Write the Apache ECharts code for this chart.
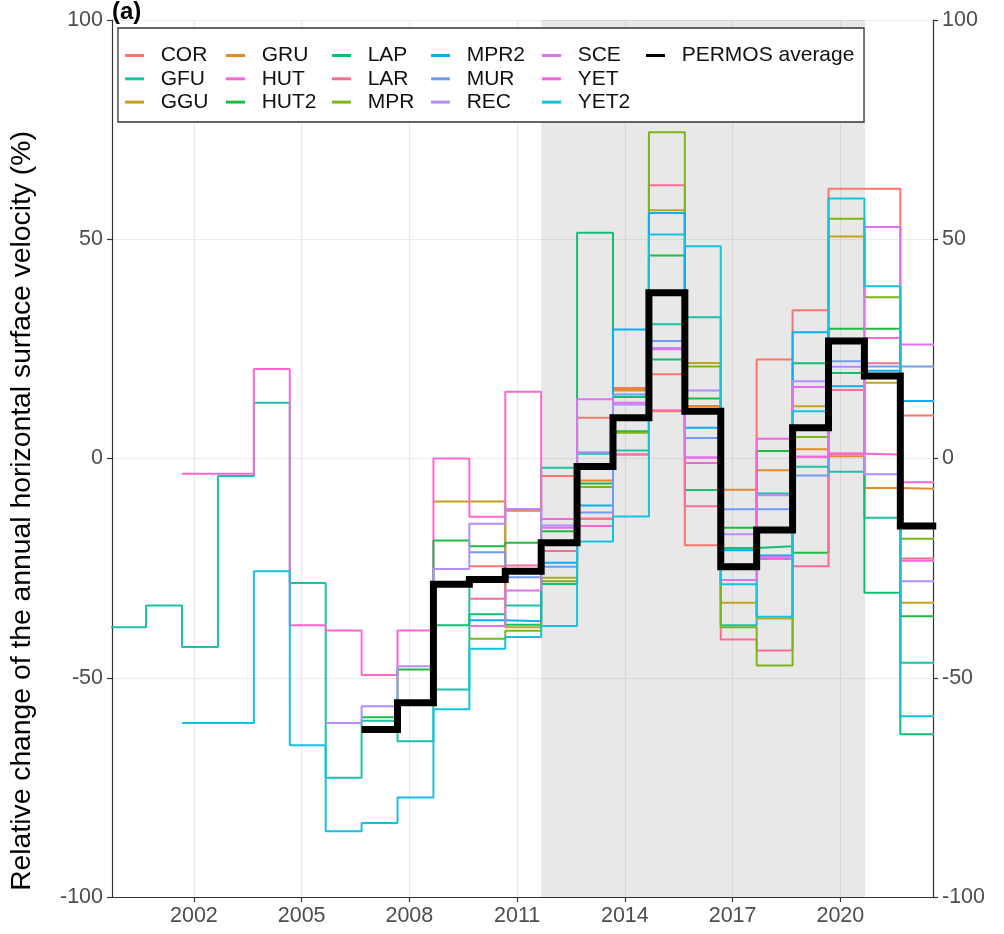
<!DOCTYPE html>
<html><head><meta charset="utf-8">
<script src="https://cdn.jsdelivr.net/npm/echarts@6/dist/echarts.min.js"></script>
<style>html,body{margin:0;padding:0;background:#fff}#c{width:1004px;height:934px}</style>
</head><body><div id="c"></div>
<script>
// ---- data (segment years; each value covers Sept of previous year to Sept of the year) ----
const years = [2000,2001,2002,2003,2004,2005,2006,2007,2008,2009,2010,2011,2012,2013,2014,2015,2016,2017,2018,2019,2020,2021,2022];
const xTicks = [2002,2005,2008,2011,2014,2017,2020];
const yTicks = [-100,-50,0,50,100];
const shadeRange = [2011.67, 2020.69];

const COR  = [null,null,null,null,null,null,null,null,null,null,-24.6,-11.9,-4,9.3,16.1,19.2,-19.8,-20.5,22.6,33.8,61.5,61.5,9.8];
const GFU  = [-38.5,-33.5,-43,-4,12.7,-28.4,-72.8,-59.8,-64.5,-52.7,-27,-33.5,-2.1,1.1,1.8,30.6,32.2,-38,-8,-1.9,-3,-13.5,-46.6];
const GGU  = [null,null,null,null,null,null,null,null,null,-9.8,-9.8,-38.5,-27.2,-13.8,15.5,56.6,21.8,-32.9,-36.5,11.9,50.6,17.3,-32.9];
const GRU  = [null,null,null,null,null,null,null,null,null,null,null,null,null,-5,15.8,10.8,12,-7.1,-2.7,2.1,0.5,-6.7,-6.9];
const HUT  = [null,null,-3.5,-3.5,20.4,-38,-39.2,-49.4,-39.2,0,-13.3,15.2,-13.8,-15.4,0.9,11,0.2,-24.2,-22.9,0.4,1.1,27.5,-5.4];
const HUT2 = [null,null,null,null,null,null,null,-59,-48.1,-18.7,-20,-19.2,-16.6,-5.7,6.2,46.3,13.7,-15.8,1.7,-21.5,29.6,29.6,-36];
const LAP  = [null,null,null,null,null,null,null,null,null,-38,-35.5,-37.9,-28.6,51.5,14,22.6,-7.2,-20.4,-20,21.7,19.5,-30.6,-62.9];
const LAR  = [null,null,null,null,null,null,null,null,null,null,-32,-24.4,-21.1,-13.7,0.9,62.3,-10.9,-41.3,-43.8,-24.6,15.6,21.7,-22.8];
const MPR  = [null,null,null,null,null,null,null,null,null,null,-41.1,-39.3,-28,-6.5,5.9,74.4,21,-38.5,-47.2,4.9,54.7,36.8,-18.3];
const MPR2 = [null,null,null,null,null,null,null,null,null,null,-36.9,-37.1,-23.8,-10.7,29.4,56,7,-20.9,-22.1,28.8,16.5,20,13.1];
const MUR  = [null,null,null,null,null,null,null,null,null,null,-21.4,-27.1,-24.7,-12.3,14.6,26.8,4.7,-11.6,-11.6,-3.9,22.2,21,21];
const REC  = [null,null,null,null,null,null,-60.3,-56.5,-47.4,-25.2,-14.9,-11.5,-15.3,1.4,12.3,25.2,15.5,-17.3,-8.4,17.6,20.9,-3.6,-28];
const SCE  = [null,null,null,null,null,null,null,null,null,null,-38.2,-30.1,-15.8,13.5,12.7,24.9,0.2,-27.7,-22.5,16.3,1.1,52.8,26];
const YET  = [null,null,null,null,null,null,null,null,null,null,null,null,null,null,null,null,-1,-24.5,4.5,0.4,1.1,0.9,-23.3];
const YET2 = [null,null,-60.3,-60.3,-25.7,-65.4,-85,-83.1,-77.3,-57.2,-43.4,-40.7,-38.2,-18.9,-13.2,51.1,48.4,-28.7,-36.1,10.8,59.3,39.3,-58.8];
const AVG  = [null,null,null,null,null,null,null,-61.8,-55.7,-28.7,-27.6,-25.7,-19.2,-1.8,9.3,37.8,10.8,-24.7,-16.3,7,26.8,18.8,-15.4];

const names = ['COR','GFU','GGU','GRU','HUT','HUT2','LAP','LAR','MPR','MPR2','MUR','REC','SCE','YET','YET2'];
const values = {COR,GFU,GGU,GRU,HUT,HUT2,LAP,LAR,MPR,MPR2,MUR,REC,SCE,YET,YET2};
const colors = {COR:'#F8766D',GFU:'#1CC2A5',GGU:'#C2A21F',GRU:'#E8862A',HUT:'#FF66CF',HUT2:'#1FBA42',
  LAP:'#12BE72',LAR:'#FA6E96',MPR:'#7CB518',MPR2:'#0AAFEF',MUR:'#6F9BF5',REC:'#B48CFB',SCE:'#E072F0',YET:'#F865D8',YET2:'#14C2E0'};
const avgName = 'PERMOS average';

function stepData(vals){
  const pts=[]; let last=-1;
  vals.forEach((v,i)=>{ if(v==null) return; pts.push([years[i]-0.33, v]); last=i; });
  if(last>=0) pts.push([years[last]+0.67, vals[last]]);
  return pts;
}

const FONT = '"Liberation Sans", Arial, sans-serif';
const series = [];
series.push({type:'line', name:'_shade', data:[], silent:true, z:1,
  markArea:{silent:true, z:1, itemStyle:{color:'rgba(128,128,128,0.18)'}, data:[[{xAxis:shadeRange[0]},{xAxis:shadeRange[1]}]]}});
names.forEach(n=>{
  series.push({type:'line', name:n, step:'end', data:stepData(values[n]), showSymbol:false, symbol:'none',
    lineStyle:{width:2, color:colors[n]}, itemStyle:{color:colors[n]}, z:3, clip:true});
});
series.push({type:'line', name:avgName, step:'end', data:stepData(AVG), showSymbol:false, symbol:'none',
  lineStyle:{width:7, color:'#000', join:'miter'}, itemStyle:{color:'#000'}, z:5, clip:true});

const cols = [['COR','GFU','GGU'],['GRU','HUT','HUT2'],['LAP','LAR','MPR'],['MPR2','MUR','REC'],['SCE','YET','YET2'],[avgName]];
const colX = [125,226,332,431,542,646];
const legends = cols.map((c,i)=>({
  data:c.map(n=>({name:n, icon:'rect'})), orient:'vertical', left:colX[i], top:45, padding:0,
  itemWidth:19, itemHeight:3, itemGap:2.3, selectedMode:false, z:30,
  formatter: n=>'  '+n,
  textStyle:{fontSize:21, color:'#111', fontFamily:FONT}
}));

const chart = echarts.init(document.getElementById('c'), null, {renderer:'canvas'});
chart.setOption({
  animation:false,
  backgroundColor:'#fff',
  grid:{left:112, right:71, top:20, bottom:37, containLabel:false},
  xAxis:{type:'value', min:1999.72, max:2022.58,
    axisLine:{show:true, onZero:false, lineStyle:{color:'#333', width:1.2}},
    axisTick:{show:true, length:5, customValues:xTicks, lineStyle:{color:'#333', width:1.2}},
    axisLabel:{customValues:xTicks, formatter:v=>String(Math.round(v)), fontSize:21.5, color:'#4d4d4d', margin:8, fontFamily:FONT},
    splitLine:{show:true, lineStyle:{color:'#EBEBEB', width:1.2}}},
  yAxis:[
    {type:'value', min:-100, max:100, interval:50, position:'left',
     axisLine:{show:true, onZero:false, lineStyle:{color:'#333', width:1.2}},
     axisTick:{show:true, length:5, lineStyle:{color:'#333', width:1.2}},
     axisLabel:{fontSize:21.5, color:'#4d4d4d', margin:9, fontFamily:FONT},
     splitLine:{show:true, lineStyle:{color:'#EBEBEB', width:1.2}}},
    {type:'value', min:-100, max:100, interval:50, position:'right',
     axisLine:{show:true, onZero:false, lineStyle:{color:'#333', width:1.2}},
     axisTick:{show:true, length:5, lineStyle:{color:'#333', width:1.2}},
     axisLabel:{fontSize:21.5, color:'#4d4d4d', margin:9, fontFamily:FONT},
     splitLine:{show:false}}
  ],
  legend: legends,
  graphic:[
    {type:'rect', shape:{x:118, y:28, width:746, height:94}, style:{fill:'#fff', stroke:'#333', lineWidth:1.3}, z:10},
    {type:'text', x:112, y:12, style:{text:'(a)', font:'bold 24px '+FONT, fill:'#000', textAlign:'left', textVerticalAlign:'middle'}, z:20},
    {type:'text', x:22, y:511, rotation:Math.PI/2, style:{text:'Relative change of the annual horizontal surface velocity (%)', font:'28.3px '+FONT, fill:'#000', textAlign:'center', textVerticalAlign:'middle'}, z:20}
  ],
  series: series
});
</script></body></html>
